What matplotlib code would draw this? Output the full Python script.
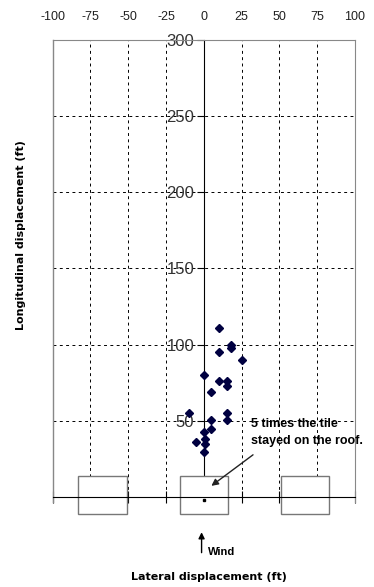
import matplotlib.pyplot as plt
from matplotlib.patches import Rectangle

# tile landing positions (ft)
lateral = [10, 18, 18, 10, 25, 0, 10, 15, 15, 5, -10, 15, 5, 15, 5, 0, -5, 1, 1, 0]
longitudinal = [111, 100, 98, 95, 90, 80, 76, 76, 73, 69, 55, 55, 51, 51, 45, 43, 36, 38, 35, 30]
stayed_x = [0]
stayed_y = [-2]

xticks = [-100, -75, -50, -25, 0, 25, 50, 75, 100]
yticks = [50, 100, 150, 200, 250, 300]
grid_x = [-75, -50, -25, 25, 50, 75]
grid_y = [50, 100, 150, 200, 250]

# roof tiles drawn as boxes: centre, width, bottom, top
tile_centres = [-67, 0, 67]
tile_width = 32
tile_bottom = -11
tile_top = 14

fig = plt.figure(figsize=(3.74, 5.87), dpi=100)
ax = fig.add_axes([0.1409, 0.1448, 0.8083, 0.7879])
ax.set_xlim(-100, 100)
ax.set_ylim(-3, 300)

# dashed grid
for gx in grid_x:
    ax.axvline(gx, color='black', lw=0.7, ls=(0, (3, 3.5)), zorder=1)
for gy in grid_y:
    ax.axhline(gy, color='black', lw=0.7, ls=(0, (3, 3.5)), zorder=1)

# frame
for s in ['top', 'right']:
    ax.spines[s].set_color('#888888')
ax.plot([0, 0], [0, 1], transform=ax.transAxes, color='#888888', lw=1, clip_on=False)

# axes through origin
ax.spines['left'].set_position(('data', 0))
ax.spines['left'].set_color('black')
ax.spines['bottom'].set_position(('data', 0))
ax.spines['bottom'].set_color('black')
ax.spines['bottom'].set_zorder(5)

ax.set_xticks(xticks)
ax.tick_params(axis='x', direction='inout', length=8, labelbottom=False, color='black')
ax.set_yticks(yticks)
ax.set_yticklabels([str(v) for v in yticks], fontsize=12, color='#333333', family='Liberation Sans')
ax.tick_params(axis='y', direction='out', length=5, pad=2)

sec = ax.secondary_xaxis('top')
sec.set_xticks(xticks)
sec.set_xticklabels([str(v) for v in xticks], fontsize=9, color='#202020', family='Liberation Sans')
sec.tick_params(length=0, pad=12)
sec.spines['top'].set_visible(False)

for c in tile_centres:
    ax.add_patch(Rectangle((c - tile_width / 2, tile_bottom), tile_width, tile_top - tile_bottom,
                           facecolor='white', edgecolor='#777777', lw=1, zorder=4, clip_on=False))

ax.plot(lateral, longitudinal, 'D', color='#000040', markersize=3.8, zorder=6)
ax.plot(stayed_x, stayed_y, 's', color='black', markersize=2, zorder=6, clip_on=False)

ax.text(31, 42.5, '5 times the tile\nstayed on the roof.', fontsize=9, fontweight='bold',
        family='Liberation Sans', ha='left', va='center', linespacing=1.5, zorder=7)
ax.annotate('', xy=(3.5, 6.5), xytext=(34, 29),
            arrowprops=dict(arrowstyle='-|>', color='#222222', lw=1, mutation_scale=10), zorder=7)

ax.annotate('', xy=(-1.5, -21), xytext=(-1.5, -38), annotation_clip=False,
            arrowprops=dict(arrowstyle='-|>', color='black', lw=1, mutation_scale=9))
ax.text(2.5, -36, 'Wind', fontsize=8, fontweight='bold', family='Liberation Sans',
        ha='left', va='center', clip_on=False)

fig.text(209 / 374, 1 - 577 / 587, 'Lateral displacement (ft)', fontsize=8, fontweight='bold',
         ha='center', va='center')
fig.text(21 / 374, 1 - 235 / 587, 'Longitudinal displacement (ft)', fontsize=8, fontweight='bold',
         ha='center', va='center', rotation=90)

fig.savefig('out.png', dpi=100)
